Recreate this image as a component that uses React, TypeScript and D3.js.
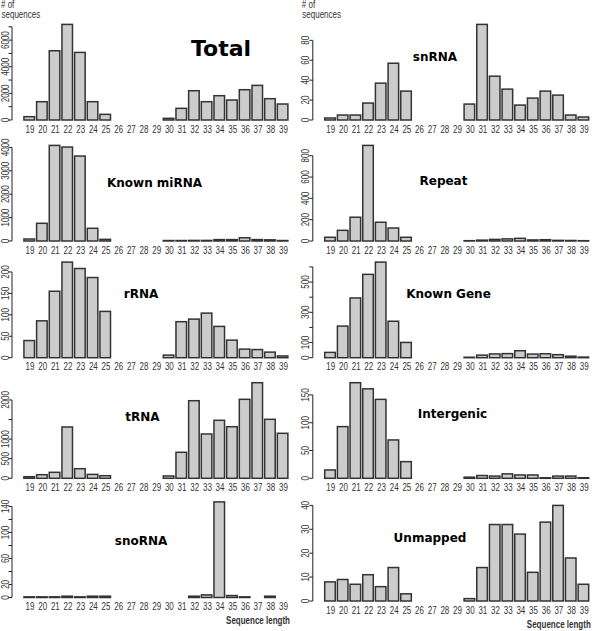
import React from "react";
import * as d3 from "d3";

const categories = [19, 20, 21, 22, 23, 24, 25, 26, 27, 28, 29, 30, 31, 32, 33, 34, 35, 36, 37, 38, 39];
const N = null;

const totalValues = [250, 1375, 5200, 7180, 5075, 1375, 425, N, N, N, N, 125, 875, 2200, 1375, 1825, 1500, 2275, 2600, 1600, 1200];
const knownMirnaValues = [85, 757, 4085, 4015, 3630, 543, 70, N, N, N, N, 20, 20, 25, 25, 60, 60, 140, 60, 50, 20];
const rrnaValues = [40, 86, 155, 223, 208, 187, 108, N, N, N, N, 6, 84, 90, 104, 73, 41, 20, 19, 13, 4];
const trnaValues = [41, 92, 153, 1310, 245, 100, 66, N, N, N, N, 59, 664, 1981, 1131, 1481, 1317, 2017, 2441, 1506, 1149];
const snornaValues = [1, 1, 1, 2, 1, 2, 2, N, N, N, N, N, N, 2, 4, 147, 3, 1, N, 2, N];
const snrnaValues = [2, 5, 5, 17, 37, 57, 29, N, N, N, N, 16, 96, 44, 31, 15, 22, 29, 25, 5, 3];
const repeatValues = [35, 100, 223, 897, 176, 122, 35, N, N, N, N, 3, 8, 15, 20, 25, 10, 12, 6, 5, 3];
const knownGeneValues = [35, 209, 395, 551, 632, 241, 101, N, N, N, N, 3, 17, 25, 27, 46, 24, 26, 20, 10, 4];
const intergenicValues = [15, 93, 172, 161, 142, 69, 30, N, N, N, N, 2, 5, 4, 8, 6, 6, 1, 4, 4, 1];
const unmappedValues = [8, 9, 7, 11, 6, 14, 3, N, N, N, N, 1, 14, 32, 32, 28, 12, 33, 40, 18, 7];

const totalTicks = [0, 1000, 2000, 3000, 4000, 5000, 6000, 7000];
const totalTickLabels = ["0", "", "2000", "", "4000", "", "6000", ""];
const knownMirnaTicks = [0, 1000, 2000, 3000, 4000];
const knownMirnaTickLabels = ["0", "1000", "2000", "3000", "4000"];
const rrnaTicks = [0, 50, 100, 150, 200];
const rrnaTickLabels = ["0", "50", "100", "150", "200"];
const trnaTicks = [0, 500, 1000, 1500, 2000];
const trnaTickLabels = ["0", "500", "1000", "", "2000"];
const snornaTicks = [0, 20, 40, 60, 80, 100, 120, 140];
const snornaTickLabels = ["0", "20", "", "60", "", "100", "", "140"];
const snrnaTicks = [0, 20, 40, 60, 80];
const snrnaTickLabels = ["0", "20", "40", "60", "80"];
const repeatTicks = [0, 200, 400, 600, 800];
const repeatTickLabels = ["0", "200", "400", "600", "800"];
const knownGeneTicks = [0, 100, 200, 300, 400, 500, 600];
const knownGeneTickLabels = ["0", "100", "", "300", "", "500", ""];
const intergenicTicks = [0, 50, 100, 150];
const intergenicTickLabels = ["0", "50", "100", "150"];
const unmappedTicks = [0, 10, 20, 30, 40];
const unmappedTickLabels = ["0", "10", "20", "30", "40"];

const panelTitles = ["Total", "Known miRNA", "rRNA", "tRNA", "snoRNA", "snRNA", "Repeat", "Known Gene", "Intergenic", "Unmapped"];

const SANS = "'Liberation Sans', Arial, sans-serif";
const BOLD = "'DejaVu Sans', Verdana, sans-serif";
const SQUEEZE = 0.8;

type Panel = {
  title: string;
  values: (number | null)[];
  ticks: number[];
  tickLabels: string[];
  col: number;
  base: number;
  titleX: number;
  titleY: number;
  titleSize: number;
  xLabel?: boolean;
};

const panels: Panel[] = [
  { title: panelTitles[0], values: totalValues, ticks: totalTicks, tickLabels: totalTickLabels, col: 0, base: 120, titleX: 221, titleY: 56, titleSize: 22 },
  { title: panelTitles[1], values: knownMirnaValues, ticks: knownMirnaTicks, tickLabels: knownMirnaTickLabels, col: 0, base: 241, titleX: 154.5, titleY: 187, titleSize: 12 },
  { title: panelTitles[2], values: rrnaValues, ticks: rrnaTicks, tickLabels: rrnaTickLabels, col: 0, base: 357.7, titleX: 141, titleY: 298, titleSize: 12 },
  { title: panelTitles[3], values: trnaValues, ticks: trnaTicks, tickLabels: trnaTickLabels, col: 0, base: 478.3, titleX: 142.5, titleY: 420.5, titleSize: 12 },
  { title: panelTitles[4], values: snornaValues, ticks: snornaTicks, tickLabels: snornaTickLabels, col: 0, base: 597.5, titleX: 141, titleY: 545, titleSize: 12, xLabel: true },
  { title: panelTitles[5], values: snrnaValues, ticks: snrnaTicks, tickLabels: snrnaTickLabels, col: 1, base: 120, titleX: 435, titleY: 61, titleSize: 12 },
  { title: panelTitles[6], values: repeatValues, ticks: repeatTicks, tickLabels: repeatTickLabels, col: 1, base: 241, titleX: 443.5, titleY: 185, titleSize: 12 },
  { title: panelTitles[7], values: knownGeneValues, ticks: knownGeneTicks, tickLabels: knownGeneTickLabels, col: 1, base: 357.7, titleX: 448.5, titleY: 298, titleSize: 12 },
  { title: panelTitles[8], values: intergenicValues, ticks: intergenicTicks, tickLabels: intergenicTickLabels, col: 1, base: 478.3, titleX: 452.5, titleY: 417.5, titleSize: 12 },
  { title: panelTitles[9], values: unmappedValues, ticks: unmappedTicks, tickLabels: unmappedTickLabels, col: 1, base: 601, titleX: 430, titleY: 541.7, titleSize: 12, xLabel: true },
];

const COL_OFFSET = [0, 300.8];
const STEP = 12.67;
const FIRST_CENTER = 29.2;
const PLOT_H = 95.6;

function NarrowText({
  x,
  y,
  rotate = 0,
  anchor = "start",
  bold = false,
  children,
}: {
  x: number;
  y: number;
  rotate?: number;
  anchor?: string;
  bold?: boolean;
  children: React.ReactNode;
}) {
  return (
    <text
      transform={`translate(${x},${y}) rotate(${rotate}) scale(${SQUEEZE},1)`}
      textAnchor={anchor}
      fontFamily={SANS}
      fontWeight={bold ? "bold" : "normal"}
      fontSize={10}
      fill="#333"
    >
      {children}
    </text>
  );
}

function PanelView({ p }: { p: Panel }) {
  const ox = COL_OFFSET[p.col];
  const c0 = ox + FIRST_CENTER;
  const x = d3
    .scaleBand<number>()
    .domain(categories)
    .range([c0 - STEP / 2, c0 + 20.5 * STEP])
    .paddingInner(1 / 6)
    .paddingOuter(1 / 12);
  const maxV = d3.max(p.values, (v) => (v == null ? 0 : v)) as number;
  const y = d3.scaleLinear().domain([0, maxV]).range([p.base, p.base - PLOT_H]);
  const axisX = ox + 12;
  const tickTop = y(p.ticks[p.ticks.length - 1]);
  return (
    <g>
      <line x1={axisX} x2={axisX} y1={p.base} y2={tickTop} stroke="#222" strokeWidth={1} />
      {p.ticks.map((t, i) => (
        <g key={i}>
          <line x1={axisX - 3.5} x2={axisX} y1={y(t)} y2={y(t)} stroke="#222" strokeWidth={1} />
          {p.tickLabels[i] !== "" && (
            <NarrowText x={ox + 8.5} y={y(t)} rotate={-90} anchor="middle">
              {p.tickLabels[i]}
            </NarrowText>
          )}
        </g>
      ))}
      {categories.map((c, i) => {
        const v = p.values[i];
        if (v == null) return null;
        const x0 = x(c) as number;
        return (
          <rect
            key={c}
            x={x0}
            y={y(v)}
            width={x.bandwidth()}
            height={Math.max(0, p.base - y(v))}
            fill="#cccccc"
            stroke="#333"
            strokeWidth={1.5}
          />
        );
      })}
      {categories.map((c) => (
        <NarrowText
          key={"l" + c}
          x={(x(c) as number) + x.bandwidth() / 2 + 0.8}
          y={p.base + 12.7}
          anchor="middle"
        >
          {c}
        </NarrowText>
      ))}
      <text
        x={p.titleX}
        y={p.titleY}
        textAnchor="middle"
        fontFamily={BOLD}
        fontWeight="bold"
        fontSize={p.titleSize}
        fill="#000"
      >
        {p.title}
      </text>
      {p.xLabel && (
        <NarrowText x={ox + 290} y={p.base + 26.7} anchor="end" bold>
          Sequence length
        </NarrowText>
      )}
    </g>
  );
}

export default function App() {
  return (
    <svg
      width={600}
      height={631}
      style={{ position: "absolute", left: 0, top: 0, background: "#fff" }}
    >
      {[0, 1].map((col) => (
        <g key={col}>
          <NarrowText x={COL_OFFSET[col] + 1} y={8}>
            # of
          </NarrowText>
          <NarrowText x={COL_OFFSET[col] + 1.5} y={18}>
            sequences
          </NarrowText>
        </g>
      ))}
      {panels.map((p, i) => (
        <PanelView key={i} p={p} />
      ))}
    </svg>
  );
}
